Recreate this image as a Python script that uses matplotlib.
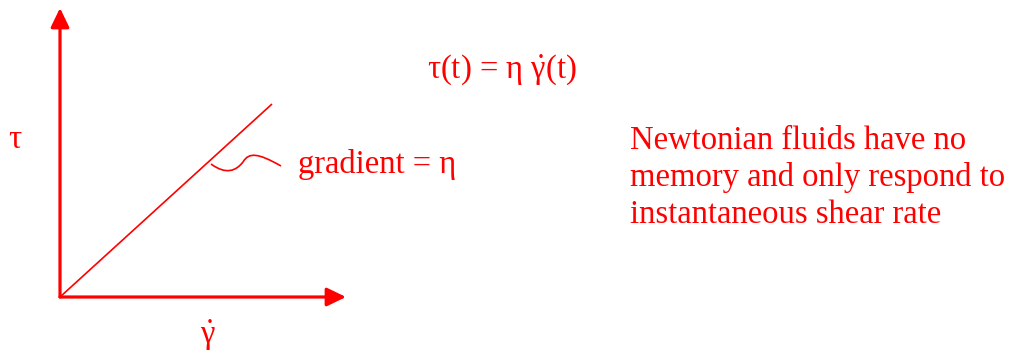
import matplotlib
matplotlib.use("Agg")
import matplotlib.pyplot as plt
from matplotlib.path import Path
from matplotlib.patches import PathPatch

plt.rcParams['mathtext.fontset'] = 'custom'
plt.rcParams['mathtext.rm'] = 'Liberation Serif'
plt.rcParams['mathtext.it'] = 'Liberation Serif'
plt.rcParams['mathtext.bf'] = 'Liberation Serif:bold'

RED = '#FF0000'
FONT = 'Liberation Serif'

# geometry (pixel space of the diagram)
origin = (60, 297)
y_axis_tip = (60, 8)
x_axis_tip = (346, 297)
line_x = [60, 272]
line_y = [297, 104]
squiggle_pts = [(211, 164), (226, 175), (236, 171), (243, 162),
                (249, 152), (258, 153), (281, 166)]

# texts
label_tau = '\u03c4'
label_gamma = r'$\dot{\gamma}$'
equation = '\u03c4(t) = \u03b7 $\\dot{\\gamma}$(t)'
gradient_label = 'gradient = \u03b7'
note_lines = ['Newtonian fluids have no', 'memory and only respond to',
              'instantaneous shear rate']

fig = plt.figure(figsize=(10.11, 3.51), dpi=100)
ax = fig.add_axes([0, 0, 1, 1])
ax.set_xlim(0, 1011)
ax.set_ylim(351, 0)
ax.axis('off')

arrow_kw = dict(arrowstyle='-|>,head_length=0.58,head_width=0.28',
                mutation_scale=20, lw=2.3, color=RED, shrinkA=0, shrinkB=0)
ax.annotate('', xy=y_axis_tip, xytext=origin, arrowprops=arrow_kw)
ax.annotate('', xy=x_axis_tip, xytext=origin, arrowprops=arrow_kw)

ax.plot(line_x, line_y, color=RED, lw=1.2, solid_capstyle='butt')

codes = [Path.MOVETO] + [Path.CURVE4] * 6
ax.add_patch(PathPatch(Path(squiggle_pts, codes), fill=False, edgecolor=RED, lw=1.2))

FS = 23.5
ax.text(8, 148, label_tau, color=RED, fontsize=FS, family=FONT, ha='left', va='baseline')
ax.text(208, 344, label_gamma, color=RED, fontsize=FS, ha='center', va='baseline')
ax.text(427, 78, equation, color=RED, fontsize=FS, family=FONT, ha='left', va='baseline')
ax.text(298, 173, gradient_label, color=RED, fontsize=FS, family=FONT,
        ha='left', va='baseline')
for i, line in enumerate(note_lines):
    ax.text(630, 149 + i * 37, line, color=RED, fontsize=FS, family=FONT,
            ha='left', va='baseline')

fig.savefig('out.png', dpi=100)
